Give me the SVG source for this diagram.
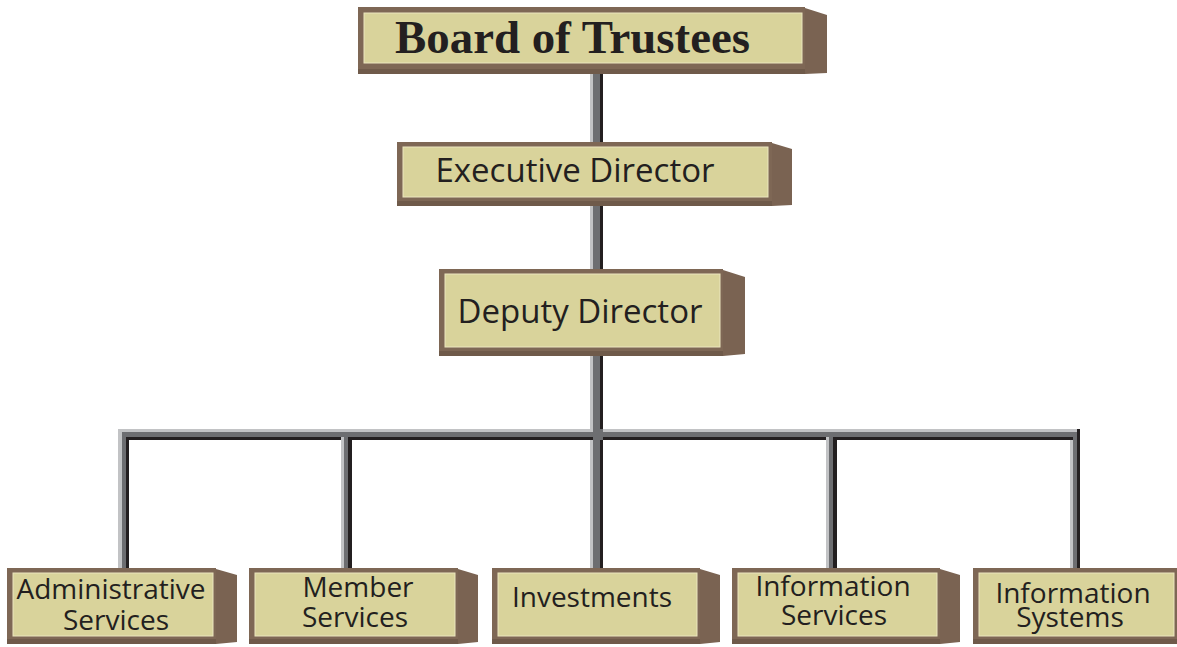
<svg xmlns="http://www.w3.org/2000/svg" width="1177" height="647" viewBox="0 0 1177 647">
  <style>
    .edge { fill: #7e6755; }
    .side { fill: #7a6352; }
    .face { fill: #d9d39b; stroke: #ebe6bf; stroke-width: 1; }
    .lip { fill: #6f5a4a; }
    .lt { fill: #c2c3c5; }
    .md { fill: #6d6e71; }
    .dk { fill: #231f20; }
    .lbl { font-family: "Open Sans", "Noto Sans", "DejaVu Sans", sans-serif; fill: #231f20; text-anchor: middle; }
    .big { font-size: 33px; }
    .small { font-size: 28px; }
    .title { font-family: "Liberation Serif", "DejaVu Serif", serif; font-weight: bold; font-size: 46px; fill: #231f20; }
  </style>

  <rect width="1177" height="647" fill="#ffffff"/>

  <!-- connector bars: light / mid / dark strips give a bevelled look -->
  <g id="connectors">
    <!-- trunk from the board down to the investments box -->
    <rect class="lt" x="590" y="70" width="3" height="498"/>
    <rect class="md" x="593" y="70" width="7" height="498"/>
    <rect class="dk" x="600" y="70" width="3" height="498"/>

    <!-- horizontal rail -->
    <rect class="lt" x="118" y="429" width="962" height="3"/>
    <rect class="md" x="118" y="432" width="962" height="5"/>
    <rect class="dk" x="126" y="437" width="951" height="3"/>
    <!-- crossing with the trunk -->
    <rect class="md" x="593" y="429" width="10" height="11"/>

    <!-- left drop -->
    <rect class="lt" x="118" y="429" width="4" height="139"/>
    <rect class="md" x="122" y="432" width="4" height="136"/>
    <rect class="dk" x="126" y="437" width="3" height="131"/>

    <!-- member services drop -->
    <rect class="lt" x="341" y="437" width="3" height="131"/>
    <rect class="md" x="344" y="437" width="4" height="131"/>
    <rect class="dk" x="348" y="437" width="4" height="131"/>

    <!-- information services drop -->
    <rect class="lt" x="826" y="437" width="3" height="131"/>
    <rect class="md" x="829" y="437" width="4" height="131"/>
    <rect class="dk" x="833" y="437" width="4" height="131"/>

    <!-- right drop -->
    <rect class="dk" x="1077" y="429" width="3" height="139"/>
    <rect class="md" x="1073" y="432" width="4" height="136"/>
    <rect class="lt" x="1070" y="440" width="3" height="128"/>
  </g>

  <!-- Board of Trustees -->
  <g id="board">
    <polygon class="side" points="805,8 827,15 827,73 805,74"/>
    <rect class="edge" x="358" y="7" width="447" height="67"/>
    <rect class="lip" x="358" y="69" width="447" height="5"/>
    <rect class="face" x="364" y="13" width="438" height="50"/>
    <text class="title" x="395" y="53" textLength="355" lengthAdjust="spacingAndGlyphs">Board of Trustees</text>
  </g>

  <!-- Executive Director -->
  <g id="executive">
    <polygon class="side" points="772,143 792,149 792,205 772,206"/>
    <rect class="edge" x="397" y="142" width="375" height="64"/>
    <rect class="lip" x="397" y="201" width="375" height="5"/>
    <rect class="face" x="403" y="147" width="365" height="50"/>
    <text class="lbl big" x="575" y="182">Executive Director</text>
  </g>

  <!-- Deputy Director -->
  <g id="deputy">
    <polygon class="side" points="723,270 745,277 745,354 723,356"/>
    <rect class="edge" x="439" y="269" width="284" height="87"/>
    <rect class="lip" x="439" y="351" width="284" height="5"/>
    <rect class="face" x="445" y="274" width="275" height="73"/>
    <text class="lbl big" x="580" y="323">Deputy Director</text>
  </g>

  <!-- Administrative Services -->
  <g id="admin">
    <polygon class="side" points="216,569 237,575 237,642 216,644"/>
    <rect class="edge" x="7" y="568" width="209" height="76"/>
    <rect class="lip" x="7" y="639" width="209" height="5"/>
    <rect class="face" x="13" y="573" width="200" height="63"/>
    <text class="lbl small" x="111" y="599">Administrative</text>
    <text class="lbl small" x="116" y="630">Services</text>
  </g>

  <!-- Member Services -->
  <g id="member">
    <polygon class="side" points="458,569 478,575 478,642 458,644"/>
    <rect class="edge" x="249" y="568" width="209" height="76"/>
    <rect class="lip" x="249" y="639" width="209" height="5"/>
    <rect class="face" x="255" y="573" width="200" height="63"/>
    <text class="lbl small" x="358" y="597">Member</text>
    <text class="lbl small" x="355" y="627">Services</text>
  </g>

  <!-- Investments -->
  <g id="investments">
    <polygon class="side" points="700,569 720,575 720,642 700,644"/>
    <rect class="edge" x="492" y="568" width="208" height="76"/>
    <rect class="lip" x="492" y="639" width="208" height="5"/>
    <rect class="face" x="498" y="573" width="199" height="63"/>
    <text class="lbl small" x="592" y="607">Investments</text>
  </g>

  <!-- Information Services -->
  <g id="info-services">
    <polygon class="side" points="940,569 960,575 960,642 940,644"/>
    <rect class="edge" x="732" y="568" width="208" height="76"/>
    <rect class="lip" x="732" y="639" width="208" height="5"/>
    <rect class="face" x="738" y="573" width="199" height="63"/>
    <text class="lbl small" x="833" y="596">Information</text>
    <text class="lbl small" x="834" y="625">Services</text>
  </g>

  <!-- Information Systems -->
  <g id="info-systems">
    <polygon class="side" points="1181,569 1201,575 1201,642 1181,644"/>
    <rect class="edge" x="973" y="568" width="208" height="76"/>
    <rect class="lip" x="973" y="639" width="208" height="5"/>
    <rect class="face" x="979" y="573" width="195" height="63"/>
    <text class="lbl small" x="1073" y="603">Information</text>
    <text class="lbl small" x="1070" y="627">Systems</text>
  </g>
</svg>
